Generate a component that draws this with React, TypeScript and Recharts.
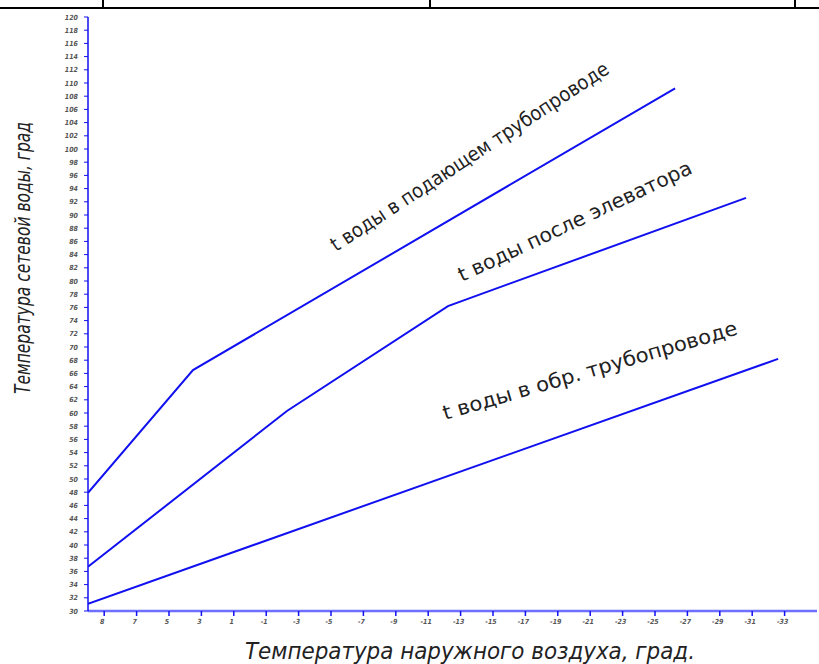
import { LineChart, Line, XAxis, YAxis } from "recharts";

// x = position on the outdoor-temperature axis (tick index), y = water temperature, °C
const supplyX = [-0.5, 2.74, 17.62];
const supplyY = [47.9, 66.5, 109.2];

const mixedX = [-0.5, 5.64, 10.61, 19.81];
const mixedY = [36.7, 60.3, 76.2, 92.6];

const returnX = [-0.5, 20.8];
const returnY = [31.1, 68.2];

const xTickLabels = [
  "8", "7", "5", "3", "1", "-1", "-3", "-5", "-7", "-9", "-11",
  "-13", "-15", "-17", "-19", "-21", "-23", "-25", "-27", "-29", "-31", "-33",
];
const yTicks = Array.from({ length: 46 }, (_, i) => 30 + i * 2);

const toRows = (xs: number[], ys: number[]) => xs.map((x, i) => ({ x, y: ys[i] }));

const BLUE = "#1010f0";
const FONT = "'DejaVu Sans Condensed', 'DejaVu Sans', sans-serif";

const XTick = (props: any) => {
  const { x, y, payload } = props;
  return (
    <g>
      <line x1={x} y1={y - 8} x2={x} y2={y - 3} stroke={BLUE} strokeWidth={1.5} />
      <text x={x - 2} y={y + 5} textAnchor="middle" fontSize={7} fontStyle="italic" fontWeight="bold" fill="#555" fontFamily={FONT}>
        {xTickLabels[payload.value]}
      </text>
    </g>
  );
};

const YTick = (props: any) => {
  const { x, y, payload } = props;
  return (
    <text x={x - 4} y={y + 2.5} textAnchor="end" fontSize={7} fontStyle="italic" fontWeight="bold" fill="#555" fontFamily={FONT}>
      {payload.value}
    </text>
  );
};

export default function App() {
  return (
    <div style={{ position: "fixed", left: 0, top: 0, width: 819, height: 664, background: "#fff" }}>
      <LineChart width={819} height={664} margin={{ top: 17, right: 2, bottom: 0, left: 0 }}>
        <XAxis
          type="number"
          dataKey="x"
          domain={[-0.5, 22]}
          ticks={xTickLabels.map((_, i) => i)}
          tick={<XTick />}
          tickLine={false}
          axisLine={{ stroke: "#6f6fff", strokeWidth: 2.5 }}
          height={53}
          allowDataOverflow
        />
        <YAxis
          type="number"
          dataKey="y"
          domain={[30, 120]}
          ticks={yTicks}
          interval={0}
          tick={<YTick />}
          tickSize={4}
          tickLine={{ stroke: BLUE }}
          axisLine={{ stroke: BLUE, strokeWidth: 1.5 }}
          width={88}
        />
        <Line data={toRows(supplyX, supplyY)} dataKey="y" type="linear" stroke={BLUE} strokeWidth={2} dot={false} isAnimationActive={false} />
        <Line data={toRows(mixedX, mixedY)} dataKey="y" type="linear" stroke={BLUE} strokeWidth={2} dot={false} isAnimationActive={false} />
        <Line data={toRows(returnX, returnY)} dataKey="y" type="linear" stroke={BLUE} strokeWidth={2} dot={false} isAnimationActive={false} />
      </LineChart>

      <svg width={819} height={664} style={{ position: "absolute", left: 0, top: 0, pointerEvents: "none" }}>
        {/* frame of the drawing sheet */}
        <line x1={0} y1={8} x2={819} y2={8} stroke="#000" strokeWidth={2} />
        <line x1={103} y1={0} x2={103} y2={8} stroke="#000" strokeWidth={2} />
        <line x1={430} y1={0} x2={430} y2={8} stroke="#000" strokeWidth={2} />
        <line x1={795} y1={0} x2={795} y2={8} stroke="#000" strokeWidth={2} />

        <text x={30} y={258} transform="rotate(-90 30 258)" textAnchor="middle" fontSize={21} fontStyle="italic" fill="#222" fontFamily={FONT} textLength={272} lengthAdjust="spacingAndGlyphs">
          Температура сетевой воды, град
        </text>
        <text x={470} y={659} textAnchor="middle" fontSize={23} fontStyle="italic" fill="#222" fontFamily={FONT} textLength={450} lengthAdjust="spacingAndGlyphs">
          Температура наружного воздуха, град.
        </text>

        <text x={336} y={252} transform="rotate(-33.2 336 252)" fontSize={20} fill="#222" fontFamily={FONT} textLength={328} lengthAdjust="spacingAndGlyphs">
          t воды в подающем трубопроводе
        </text>
        <text x={462} y={282} transform="rotate(-25.3 462 282)" fontSize={20} fill="#222" fontFamily={FONT} textLength={256} lengthAdjust="spacingAndGlyphs">
          t воды после элеватора
        </text>
        <text x={445} y={420} transform="rotate(-16.3 445 420)" fontSize={20} fill="#222" fontFamily={FONT} textLength={306} lengthAdjust="spacingAndGlyphs">
          t воды в обр. трубопроводе
        </text>
      </svg>
    </div>
  );
}
